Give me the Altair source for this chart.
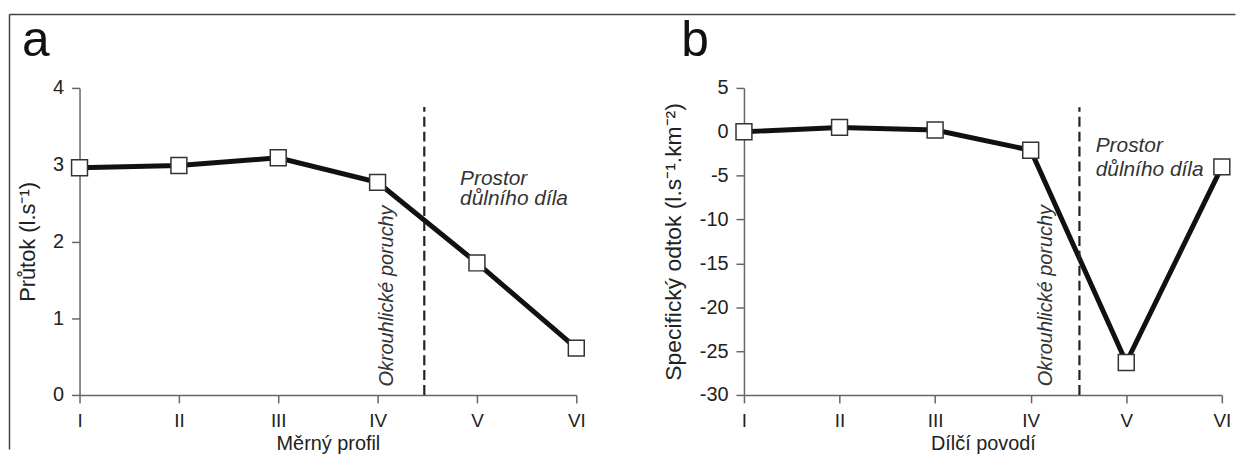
import json
import altair as alt
import pandas as pd

FONT = "Liberation Sans"

# ---- data ----
profiles = ["I", "II", "III", "IV", "V", "VI"]
positions = [1, 2, 3, 4, 5, 6]
flow = [2.96, 2.99, 3.09, 2.77, 1.72, 0.61]            # panel a, Průtok (l.s-1)
specific = [0.0, 0.5, 0.2, -2.1, -26.3, -4.0]         # panel b, Specifický odtok

ticks_a = [0, 1, 2, 3, 4]
ticks_b = [-30, -25, -20, -15, -10, -5, 0, 5]

# dashed boundary (x position, from, to)
boundary_a = [4.47, 0, 3.75]
boundary_b = [4.51, -30, 2.8]

fault_label = "Okrouhlické poruchy"
area_lines = ["Prostor", "důlního díla"]
fault_a = [4.10, 0.11]
fault_b = [4.16, -29.0]
area_a = [4.83, [2.74, 2.47]]
area_b = [4.68, [-2.28, -5.0]]

label_expr = json.dumps(profiles) + "[datum.value - 1]"
num_expr = "datum.value < 0 ? '-' + abs(datum.value) : '' + datum.value"

AX = "#666666"
TX = "#222222"


def panel(values, xtitle, ytitle, ydomain, yticks, width, letter, letter_dx,
          boundary, fault, area, ytitle_pad, ytitle_size, frame):
    df = pd.DataFrame({"pos": positions, "label": profiles, "value": values})
    x = alt.X(
        "pos:Q",
        scale=alt.Scale(domain=[1, 6], nice=False, zero=False),
        axis=alt.Axis(values=positions, labelExpr=label_expr, title=xtitle,
                      tickSize=8, labelPadding=9, titlePadding=3,
                      labelFontSize=19, titleFontSize=20, labelFont=FONT,
                      titleFont=FONT, titleFontWeight="normal",
                      domainColor=AX, tickColor=AX, domainWidth=1.5,
                      tickWidth=1.5, labelColor=TX, titleColor=TX,
                      grid=False, labelFlush=False),
    )
    y = alt.Y(
        "value:Q",
        scale=alt.Scale(domain=ydomain, nice=False, zero=False),
        axis=alt.Axis(values=yticks, labelExpr=num_expr, title=ytitle,
                      tickSize=8, labelPadding=8, titlePadding=ytitle_pad,
                      labelFontSize=20, titleFontSize=ytitle_size,
                      labelFont=FONT, titleFont=FONT,
                      titleFontWeight="normal",
                      domainColor=AX, tickColor=AX, domainWidth=1.5,
                      tickWidth=1.5, labelColor=TX, titleColor=TX,
                      grid=False, labelFlush=False),
    )
    base = alt.Chart(df)
    line = base.mark_line(color="#111111", strokeWidth=5).encode(x=x, y=y)
    pts = base.mark_square(size=256, color="white", stroke="#333333",
                           strokeWidth=1.5, opacity=1).encode(x=x, y=y)

    bdf = pd.DataFrame({"pos": [boundary[0]], "value": [boundary[1]],
                        "value2": [boundary[2]]})
    dash = alt.Chart(bdf).mark_rule(color="#222222", strokeWidth=2.2,
                                    strokeDash=[10, 5]).encode(
        x=x, y=y, y2=alt.Y2("value2"))

    fdf = pd.DataFrame({"pos": [fault[0]], "value": [fault[1]],
                        "text": [fault_label]})
    ftxt = alt.Chart(fdf).mark_text(
        angle=270, align="left", baseline="middle", fontStyle="italic",
        fontSize=20, font=FONT, color="#333333").encode(x=x, y=y, text="text:N")

    adf = pd.DataFrame({"pos": [area[0]] * 2, "value": area[1],
                        "text": area_lines})
    atxt = alt.Chart(adf).mark_text(
        align="left", baseline="alphabetic", fontStyle="italic",
        fontSize=21, font=FONT, color="#333333").encode(x=x, y=y, text="text:N")

    one = pd.DataFrame({"d": [0]})
    ltxt = alt.Chart(one).mark_text(
        align="left", baseline="alphabetic", fontSize=50, font=FONT,
        color="#111111").encode(x=alt.value(letter_dx), y=alt.value(-32),
                                text=alt.value(letter))

    layers = [line, pts, dash, ftxt, atxt, ltxt]

    for seg in frame:
        enc = {k: alt.value(v) for k, v in seg.items()}
        layers.append(alt.Chart(one).mark_rule(color="#444444",
                                               strokeWidth=1.5).encode(**enc))

    return alt.layer(*layers).properties(width=width, height=309)


left = panel(flow, "Měrný profil", "Průtok (l.s⁻¹)", [0, 4], ticks_a, 500,
             "a", -58, boundary_a, fault_a, area_a, 13, 22,
             frame=[{"x": -70.5, "y": -74, "y2": 364},
                    {"x": -70.5, "x2": 1163.5, "y": -74}])
right = panel(specific, "Dílčí povodí", "Specifický odtok (l.s⁻¹.km⁻²)",
              [-30, 5], ticks_b, 481, "b", -63, boundary_b, fault_b, area_b,
              14, 23, frame=[])

chart = alt.hconcat(left, right, spacing=168.75, bounds="flush").properties(
    padding={"left": 0, "top": 4, "right": 0, "bottom": 0}
).configure_view(stroke=None)

chart.save("out.html", embed_options={"renderer": "svg", "actions": False})
